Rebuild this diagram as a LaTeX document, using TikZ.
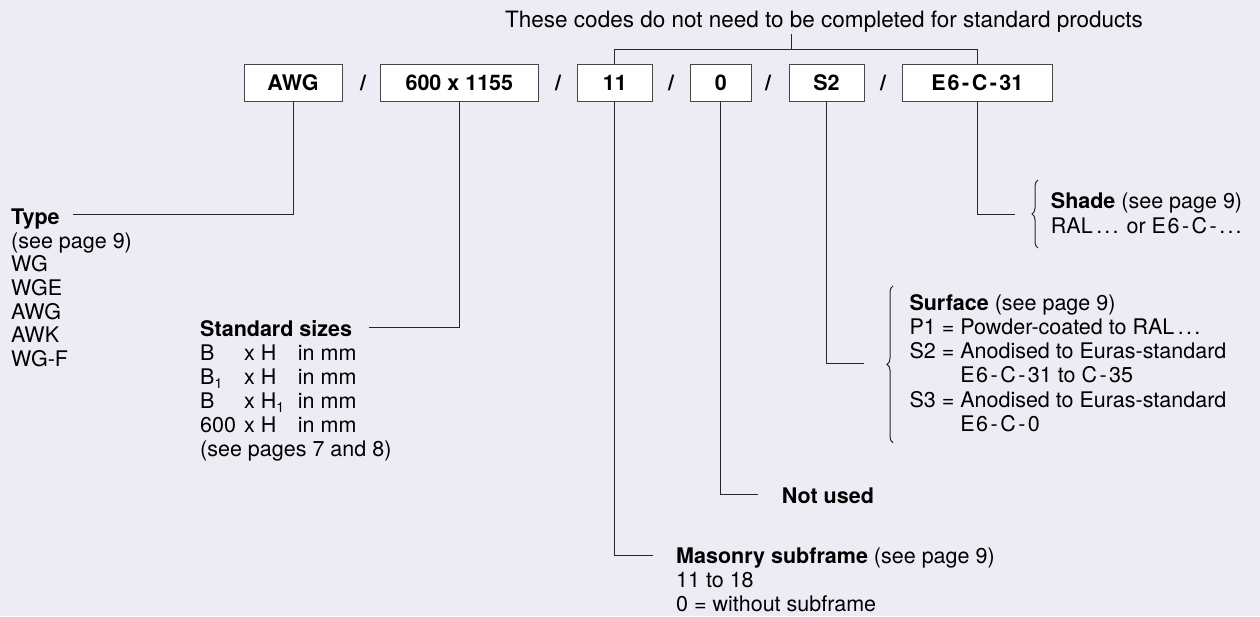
\documentclass[tikz,border=0pt]{standalone}
\usepackage{fontspec}
\setmainfont{TeX Gyre Heros}
\usetikzlibrary{decorations.pathreplacing}
\definecolor{bg}{RGB}{237,236,244}
\definecolor{boxline}{RGB}{70,70,70}
\newcommand\dsh{\kern2.5pt-\kern2.5pt}
\newcommand\ddd{.\kern2.2pt.\kern2.2pt.}
\newcommand\subn[1]{\raisebox{-0.35ex}{\fontsize{14}{14}\selectfont #1}}
\newcommand\blk[1]{\begin{tabular}[t]{@{}l@{}}#1\end{tabular}}
\newcommand\cola[1]{\makebox[44pt][l]{#1}}
\newcommand\colb[1]{\makebox[53.7pt][l]{#1}}
\begin{document}
\begin{tikzpicture}[x=1pt,y=-1pt,
  codebox/.style={draw=boxline, fill=white, line width=1pt, minimum height=37.4pt, inner sep=0pt,
    font=\fontsize{21.5}{24}\selectfont\bfseries},
  slash/.style={inner sep=0pt, font=\fontsize{21.5}{24}\selectfont\bfseries},
  txt/.style={inner sep=0pt, anchor=base west, font=\fontsize{21.5}{24}\selectfont},
  conn/.style={line width=1pt, draw=black!85},
  brc/.style={line width=1pt, draw=black!85, decorate, decoration={brace, amplitude=6pt}}]
\useasboundingbox (0,0) rectangle (1260,616);
\fill[bg] (0,0) rectangle (1260,616);

% code boxes
\node[codebox, minimum width=98pt]   (awg)  at (293,83)    {AWG};
\node[slash] (s1) at (363,83) {/};
\node[codebox, minimum width=157.3pt] (size) at (459.35,83) {600 x 1155};
\node[slash] (s2) at (558,83) {/};
\node[codebox, minimum width=74.3pt] (b11)  at (614.85,83) {11};
\node[slash] (s3) at (671,83) {/};
\node[codebox, minimum width=60.3pt] (b0)   at (720.85,83) {0};
\node[slash] (s4) at (768,83) {/};
\node[codebox, minimum width=75pt]   (bs2)  at (826.5,83)  {S2};
\node[slash] (s5) at (883,83) {/};
\node[codebox, minimum width=150.7pt] (be6) at (977.35,83) {E\kern2pt6\dsh C\dsh 31};

% top note
\node[txt, font=\fontsize{22.5}{24}\selectfont] (note) at (505,27)
  {These codes do not need to be completed for standard products};
\coordinate (ticktop) at (791.7,34);
\coordinate (brk) at (791.7,49.3);
\draw[conn] (ticktop) -- (brk);
\draw[conn] (b11.north) |- (brk) -| (be6.north);

% Type
\node[txt, font=\fontsize{21.5}{23.7}\selectfont] (type) at (11,224.3)
  {\blk{\textbf{Type}\\(see page 9)\\WG\\WGE\\AWG\\AWK\\WG-F}};
\coordinate (typeend) at (72.7,214.3);
\draw[conn] (awg.south) |- (typeend);

% Standard sizes
\node[txt, font=\fontsize{21.5}{24}\selectfont] (std) at (200,336.7)
  {\blk{\textbf{Standard sizes}\\
   \cola{B}\colb{x H}in mm\\
   \cola{B\subn{1}}\colb{x H}in mm\\
   \cola{B}\colb{x H\subn{1}}in mm\\
   \cola{600}\colb{x H}in mm\\
   (see pages 7 and 8)}};
\coordinate (stdend) at (369,327.7);
\draw[conn] (size.south) |- (stdend);

% Masonry subframe
\node[txt, font=\fontsize{21.5}{24.2}\selectfont] (mas) at (676,563.3)
  {\blk{\textbf{Masonry subframe} (see page 9)\\11 to 18\\0 = without subframe}};
\coordinate (masend) at (652.7,555);
\draw[conn] (b11.south) |- (masend);

% Not used
\node[txt] (nu) at (781.7,503.3) {\textbf{Not used}};
\coordinate (nuend) at (758.3,494);
\draw[conn] (b0.south) |- (nuend);

% Surface
\node[txt, font=\fontsize{21.5}{24.3}\selectfont] (surf) at (909.3,310)
  {\blk{\textbf{Surface} (see page 9)\\
   P1 = Powder-coated to RAL\,\ddd\\
   S2 = Anodised to Euras-standard\\
   \phantom{S2 = }E\kern1.5pt6\dsh C\dsh 31 to C\dsh 35\\
   S3 = Anodised to Euras-standard\\
   \phantom{S3 = }E\kern1.5pt6\dsh C\dsh 0}};
\coordinate (surfend) at (864,363.3);
\draw[conn] (bs2.south) |- (surfend);
\draw[brc] (893,442.7) -- (893,286);

% Shade
\node[txt, font=\fontsize{21.5}{25}\selectfont] (shade) at (1050.7,208.3)
  {\blk{\textbf{Shade} (see page 9)\\RAL\,\ddd{} or E\kern1.5pt6\dsh C\dsh\ddd}};
\coordinate (shadeend) at (1015,214.3);
\draw[conn] (be6.south) |- (shadeend);
\draw[brc] (1038,248) -- (1038,180);
\end{tikzpicture}
\end{document}
